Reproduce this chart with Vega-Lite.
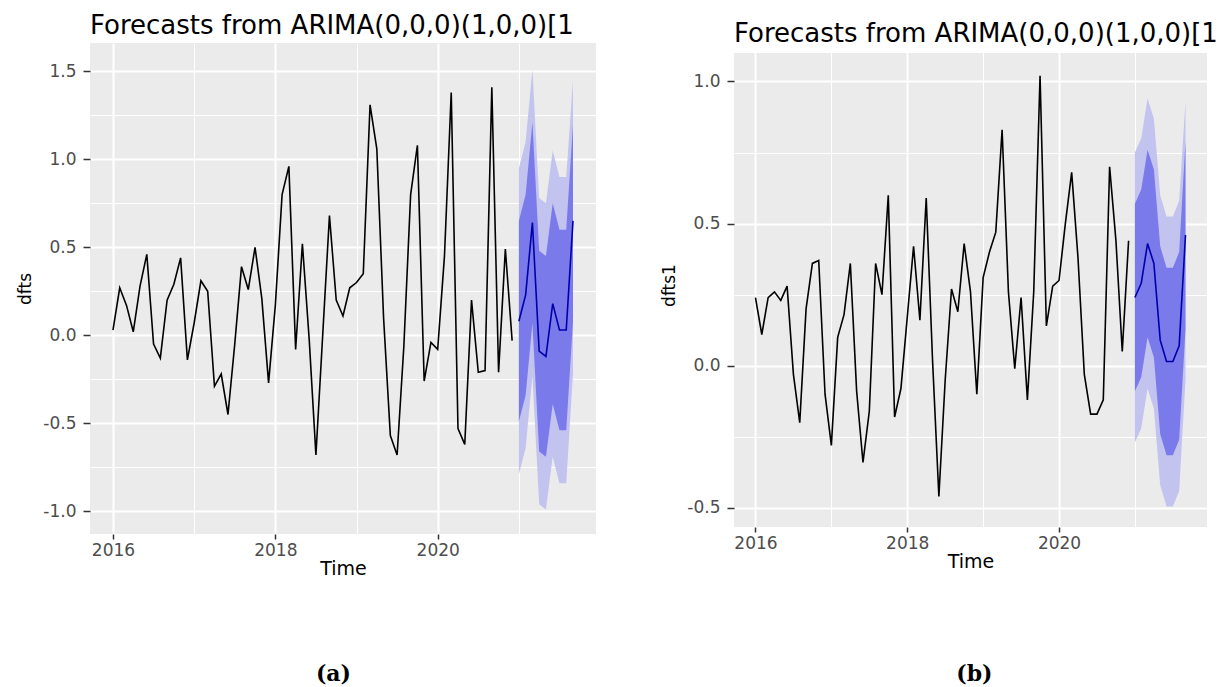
{
  "$schema": "https://vega.github.io/schema/vega-lite/v6.json",
  "background": "white",
  "padding": {"left": 16, "top": 12, "right": 0, "bottom": 0},
  "spacing": 64,
  "columns": 2,
  "align": "none",
  "config": {
    "view": {"fill": "#EBEBEB", "stroke": null},
    "axis": {
      "domain": false,
      "tickColor": "#333333",
      "tickWidth": 1.5,
      "labelColor": "#4D4D4D",
      "labelFont": "DejaVu Sans",
      "labelFontSize": 17,
      "labelOverlap": false,
      "labelFlush": false,
      "titleFont": "DejaVu Sans",
      "titleFontSize": 19,
      "titleFontWeight": "normal",
      "titleColor": "black",
      "gridColor": "white",
      "grid": true
    },
    "axisX": {"tickSize": 5, "labelPadding": 3, "titlePadding": 1},
    "axisY": {"tickSize": 7, "labelPadding": 7, "titlePadding": 8, "titleFontSize": 17},
    "title": {"font": "DejaVu Sans", "fontSize": 26, "fontWeight": "normal", "color": "black"}
  },
  "datasets": {
    "a_hist": [
      {"t": 2016.0, "v": 0.03}, {"t": 2016.0833, "v": 0.27}, {"t": 2016.1667, "v": 0.17}, {"t": 2016.25, "v": 0.02},
      {"t": 2016.3333, "v": 0.28}, {"t": 2016.4167, "v": 0.46}, {"t": 2016.5, "v": -0.05}, {"t": 2016.5833, "v": -0.13},
      {"t": 2016.6667, "v": 0.2}, {"t": 2016.75, "v": 0.29}, {"t": 2016.8333, "v": 0.44}, {"t": 2016.9167, "v": -0.14},
      {"t": 2017.0, "v": 0.07}, {"t": 2017.0833, "v": 0.31}, {"t": 2017.1667, "v": 0.25}, {"t": 2017.25, "v": -0.29},
      {"t": 2017.3333, "v": -0.22}, {"t": 2017.4167, "v": -0.45}, {"t": 2017.5, "v": -0.05}, {"t": 2017.5833, "v": 0.39},
      {"t": 2017.6667, "v": 0.26}, {"t": 2017.75, "v": 0.5}, {"t": 2017.8333, "v": 0.21}, {"t": 2017.9167, "v": -0.27},
      {"t": 2018.0, "v": 0.17}, {"t": 2018.0833, "v": 0.8}, {"t": 2018.1667, "v": 0.96}, {"t": 2018.25, "v": -0.08},
      {"t": 2018.3333, "v": 0.52}, {"t": 2018.4167, "v": -0.02}, {"t": 2018.5, "v": -0.68}, {"t": 2018.5833, "v": 0.0},
      {"t": 2018.6667, "v": 0.68}, {"t": 2018.75, "v": 0.2}, {"t": 2018.8333, "v": 0.11}, {"t": 2018.9167, "v": 0.27},
      {"t": 2019.0, "v": 0.3}, {"t": 2019.0833, "v": 0.35}, {"t": 2019.1667, "v": 1.31}, {"t": 2019.25, "v": 1.06},
      {"t": 2019.3333, "v": 0.1}, {"t": 2019.4167, "v": -0.57}, {"t": 2019.5, "v": -0.68}, {"t": 2019.5833, "v": -0.06},
      {"t": 2019.6667, "v": 0.8}, {"t": 2019.75, "v": 1.08}, {"t": 2019.8333, "v": -0.26}, {"t": 2019.9167, "v": -0.04},
      {"t": 2020.0, "v": -0.08}, {"t": 2020.0833, "v": 0.45}, {"t": 2020.1667, "v": 1.38}, {"t": 2020.25, "v": -0.53},
      {"t": 2020.3333, "v": -0.62}, {"t": 2020.4167, "v": 0.2}, {"t": 2020.5, "v": -0.21}, {"t": 2020.5833, "v": -0.2},
      {"t": 2020.6667, "v": 1.41}, {"t": 2020.75, "v": -0.21}, {"t": 2020.8333, "v": 0.49}, {"t": 2020.9167, "v": -0.03}
    ],
    "a_fc": [
      {"t": 2021.0, "mean": 0.08, "lo80": -0.49, "hi80": 0.65, "lo95": -0.79, "hi95": 0.95},
      {"t": 2021.0833, "mean": 0.23, "lo80": -0.34, "hi80": 0.8, "lo95": -0.64, "hi95": 1.1},
      {"t": 2021.1667, "mean": 0.64, "lo80": 0.07, "hi80": 1.21, "lo95": -0.23, "hi95": 1.51},
      {"t": 2021.25, "mean": -0.09, "lo80": -0.66, "hi80": 0.48, "lo95": -0.96, "hi95": 0.78},
      {"t": 2021.3333, "mean": -0.12, "lo80": -0.69, "hi80": 0.45, "lo95": -0.99, "hi95": 0.75},
      {"t": 2021.4167, "mean": 0.18, "lo80": -0.39, "hi80": 0.75, "lo95": -0.69, "hi95": 1.05},
      {"t": 2021.5, "mean": 0.03, "lo80": -0.54, "hi80": 0.6, "lo95": -0.84, "hi95": 0.9},
      {"t": 2021.5833, "mean": 0.03, "lo80": -0.54, "hi80": 0.6, "lo95": -0.84, "hi95": 0.9},
      {"t": 2021.6667, "mean": 0.65, "lo80": 0.08, "hi80": 1.2, "lo95": -0.22, "hi95": 1.45}
    ],
    "b_hist": [
      {"t": 2016.0, "v": 0.24}, {"t": 2016.0833, "v": 0.11}, {"t": 2016.1667, "v": 0.24}, {"t": 2016.25, "v": 0.26},
      {"t": 2016.3333, "v": 0.23}, {"t": 2016.4167, "v": 0.28}, {"t": 2016.5, "v": -0.03}, {"t": 2016.5833, "v": -0.2},
      {"t": 2016.6667, "v": 0.2}, {"t": 2016.75, "v": 0.36}, {"t": 2016.8333, "v": 0.37}, {"t": 2016.9167, "v": -0.1},
      {"t": 2017.0, "v": -0.28}, {"t": 2017.0833, "v": 0.1}, {"t": 2017.1667, "v": 0.18}, {"t": 2017.25, "v": 0.36},
      {"t": 2017.3333, "v": -0.09}, {"t": 2017.4167, "v": -0.34}, {"t": 2017.5, "v": -0.16}, {"t": 2017.5833, "v": 0.36},
      {"t": 2017.6667, "v": 0.25}, {"t": 2017.75, "v": 0.6}, {"t": 2017.8333, "v": -0.18}, {"t": 2017.9167, "v": -0.08},
      {"t": 2018.0, "v": 0.17}, {"t": 2018.0833, "v": 0.42}, {"t": 2018.1667, "v": 0.16}, {"t": 2018.25, "v": 0.59},
      {"t": 2018.3333, "v": 0.02}, {"t": 2018.4167, "v": -0.46}, {"t": 2018.5, "v": -0.05}, {"t": 2018.5833, "v": 0.27},
      {"t": 2018.6667, "v": 0.19}, {"t": 2018.75, "v": 0.43}, {"t": 2018.8333, "v": 0.26}, {"t": 2018.9167, "v": -0.1},
      {"t": 2019.0, "v": 0.31}, {"t": 2019.0833, "v": 0.4}, {"t": 2019.1667, "v": 0.47}, {"t": 2019.25, "v": 0.83},
      {"t": 2019.3333, "v": 0.26}, {"t": 2019.4167, "v": -0.01}, {"t": 2019.5, "v": 0.24}, {"t": 2019.5833, "v": -0.12},
      {"t": 2019.6667, "v": 0.26}, {"t": 2019.75, "v": 1.02}, {"t": 2019.8333, "v": 0.14}, {"t": 2019.9167, "v": 0.28},
      {"t": 2020.0, "v": 0.3}, {"t": 2020.0833, "v": 0.5}, {"t": 2020.1667, "v": 0.68}, {"t": 2020.25, "v": 0.38},
      {"t": 2020.3333, "v": -0.03}, {"t": 2020.4167, "v": -0.17}, {"t": 2020.5, "v": -0.17}, {"t": 2020.5833, "v": -0.12},
      {"t": 2020.6667, "v": 0.7}, {"t": 2020.75, "v": 0.44}, {"t": 2020.8333, "v": 0.05}, {"t": 2020.9167, "v": 0.44}
    ],
    "b_fc": [
      {"t": 2021.0, "mean": 0.24, "lo80": -0.09, "hi80": 0.57, "lo95": -0.27, "hi95": 0.75},
      {"t": 2021.0833, "mean": 0.29, "lo80": -0.04, "hi80": 0.62, "lo95": -0.22, "hi95": 0.8},
      {"t": 2021.1667, "mean": 0.43, "lo80": 0.1, "hi80": 0.76, "lo95": -0.08, "hi95": 0.94},
      {"t": 2021.25, "mean": 0.36, "lo80": 0.03, "hi80": 0.69, "lo95": -0.15, "hi95": 0.87},
      {"t": 2021.3333, "mean": 0.09, "lo80": -0.24, "hi80": 0.42, "lo95": -0.42, "hi95": 0.6},
      {"t": 2021.4167, "mean": 0.015, "lo80": -0.315, "hi80": 0.345, "lo95": -0.495, "hi95": 0.525},
      {"t": 2021.5, "mean": 0.015, "lo80": -0.315, "hi80": 0.345, "lo95": -0.495, "hi95": 0.525},
      {"t": 2021.5833, "mean": 0.07, "lo80": -0.26, "hi80": 0.4, "lo95": -0.44, "hi95": 0.58},
      {"t": 2021.6667, "mean": 0.46, "lo80": 0.13, "hi80": 0.79, "lo95": -0.05, "hi95": 0.93}
    ]
  },
  "concat": [
    {
      "title": {"text": "(a)", "orient": "bottom", "anchor": "middle", "font": "DejaVu Serif", "fontSize": 22, "fontWeight": "bold", "offset": 86, "dx": 27},
      "vconcat": [
        {
          "width": 506,
          "height": 491,
          "title": {"text": "Forecasts from ARIMA(0,0,0)(1,0,0)[1", "anchor": "start", "frame": "group", "offset": 4.5},
          "layer": [
            {
              "data": {"name": "a_fc"},
              "mark": {"type": "area", "color": "#C3C3F0", "opacity": 1},
              "encoding": {
                "x": {"field": "t", "type": "quantitative", "title": "Time",
                  "scale": {"domain": [2015.717, 2021.95], "nice": false, "zero": false},
                  "axis": {"values": [2016, 2017, 2018, 2019, 2020, 2021],
                    "labelExpr": "datum.value % 2 == 0 ? format(datum.value, 'd') : ''",
                    "tickOpacity": {"condition": {"test": "datum.value % 2 == 0", "value": 1}, "value": 0},
                    "gridWidth": {"condition": {"test": "datum.value % 2 == 0", "value": 2}, "value": 1}}},
                "y": {"field": "lo95", "type": "quantitative", "title": "dfts",
                  "scale": {"domain": [-1.129, 1.661], "nice": false, "zero": false},
                  "axis": {"values": [-1, -0.75, -0.5, -0.25, 0, 0.25, 0.5, 0.75, 1, 1.25, 1.5],
                    "labelExpr": "datum.value % 0.5 == 0 ? replace(format(datum.value, '.1f'), '\u2212', '-') : ''",
                    "tickOpacity": {"condition": {"test": "datum.value % 0.5 == 0", "value": 1}, "value": 0},
                    "gridWidth": {"condition": {"test": "datum.value % 0.5 == 0", "value": 2}, "value": 1}}},
                "y2": {"field": "hi95"}
              }
            },
            {
              "data": {"name": "a_fc"},
              "mark": {"type": "area", "color": "#7A7AEB", "opacity": 1},
              "encoding": {
                "x": {"field": "t", "type": "quantitative", "title": "Time", "scale": {"domain": [2015.717, 2021.95], "nice": false, "zero": false}},
                "y": {"field": "lo80", "type": "quantitative", "title": "dfts", "scale": {"domain": [-1.129, 1.661], "nice": false, "zero": false}},
                "y2": {"field": "hi80"}
              }
            },
            {
              "data": {"name": "a_hist"},
              "mark": {"type": "line", "color": "black", "strokeWidth": 1.6},
              "encoding": {
                "x": {"field": "t", "type": "quantitative", "title": "Time", "scale": {"domain": [2015.717, 2021.95], "nice": false, "zero": false}},
                "y": {"field": "v", "type": "quantitative", "title": "dfts", "scale": {"domain": [-1.129, 1.661], "nice": false, "zero": false}}
              }
            },
            {
              "data": {"name": "a_fc"},
              "mark": {"type": "line", "color": "#0000AA", "strokeWidth": 1.6},
              "encoding": {
                "x": {"field": "t", "type": "quantitative", "title": "Time", "scale": {"domain": [2015.717, 2021.95], "nice": false, "zero": false}},
                "y": {"field": "mean", "type": "quantitative", "title": "dfts", "scale": {"domain": [-1.129, 1.661], "nice": false, "zero": false}}
              }
            }
          ]
        }
      ]
    },
    {
      "title": {"text": "(b)", "orient": "bottom", "anchor": "middle", "font": "DejaVu Serif", "fontSize": 22, "fontWeight": "bold", "offset": 93, "dx": 35},
      "vconcat": [
        {
          "width": 473,
          "height": 484,
          "title": {"text": "Forecasts from ARIMA(0,0,0)(1,0,0)[1", "anchor": "start", "frame": "group", "offset": 4.5, "dy": 10},
          "layer": [
            {
              "data": {"values": [{}]},
              "mark": {"type": "rect", "color": "white"},
              "encoding": {
                "x": {"datum": 2015.7, "type": "quantitative", "title": "Time", "scale": {"domain": [2015.717, 2021.95], "nice": false, "zero": false}},
                "x2": {"datum": 2021.97},
                "y": {"datum": 1.1, "type": "quantitative", "title": "dfts1", "scale": {"domain": [-0.567, 1.1352], "nice": false, "zero": false}},
                "y2": {"datum": 1.14}
              }
            },
            {
              "data": {"name": "b_fc"},
              "mark": {"type": "area", "color": "#C3C3F0", "opacity": 1},
              "encoding": {
                "x": {"field": "t", "type": "quantitative", "title": "Time",
                  "scale": {"domain": [2015.717, 2021.95], "nice": false, "zero": false},
                  "axis": {"values": [2016, 2017, 2018, 2019, 2020, 2021],
                    "labelExpr": "datum.value % 2 == 0 ? format(datum.value, 'd') : ''",
                    "tickOpacity": {"condition": {"test": "datum.value % 2 == 0", "value": 1}, "value": 0},
                    "gridWidth": {"condition": {"test": "datum.value % 2 == 0", "value": 2}, "value": 1}}},
                "y": {"field": "lo95", "type": "quantitative", "title": "dfts1",
                  "scale": {"domain": [-0.567, 1.1352], "nice": false, "zero": false},
                  "axis": {"values": [-0.5, -0.25, 0, 0.25, 0.5, 0.75, 1],
                    "labelExpr": "datum.value % 0.5 == 0 ? replace(format(datum.value, '.1f'), '\u2212', '-') : ''",
                    "tickOpacity": {"condition": {"test": "datum.value % 0.5 == 0", "value": 1}, "value": 0},
                    "gridWidth": {"condition": {"test": "datum.value % 0.5 == 0", "value": 2}, "value": 1}}},
                "y2": {"field": "hi95"}
              }
            },
            {
              "data": {"name": "b_fc"},
              "mark": {"type": "area", "color": "#7A7AEB", "opacity": 1},
              "encoding": {
                "x": {"field": "t", "type": "quantitative", "title": "Time", "scale": {"domain": [2015.717, 2021.95], "nice": false, "zero": false}},
                "y": {"field": "lo80", "type": "quantitative", "title": "dfts1", "scale": {"domain": [-0.567, 1.1352], "nice": false, "zero": false}},
                "y2": {"field": "hi80"}
              }
            },
            {
              "data": {"name": "b_hist"},
              "mark": {"type": "line", "color": "black", "strokeWidth": 1.6},
              "encoding": {
                "x": {"field": "t", "type": "quantitative", "title": "Time", "scale": {"domain": [2015.717, 2021.95], "nice": false, "zero": false}},
                "y": {"field": "v", "type": "quantitative", "title": "dfts1", "scale": {"domain": [-0.567, 1.1352], "nice": false, "zero": false}}
              }
            },
            {
              "data": {"name": "b_fc"},
              "mark": {"type": "line", "color": "#0000AA", "strokeWidth": 1.6},
              "encoding": {
                "x": {"field": "t", "type": "quantitative", "title": "Time", "scale": {"domain": [2015.717, 2021.95], "nice": false, "zero": false}},
                "y": {"field": "mean", "type": "quantitative", "title": "dfts1", "scale": {"domain": [-0.567, 1.1352], "nice": false, "zero": false}}
              }
            }
          ]
        }
      ]
    }
  ]
}
